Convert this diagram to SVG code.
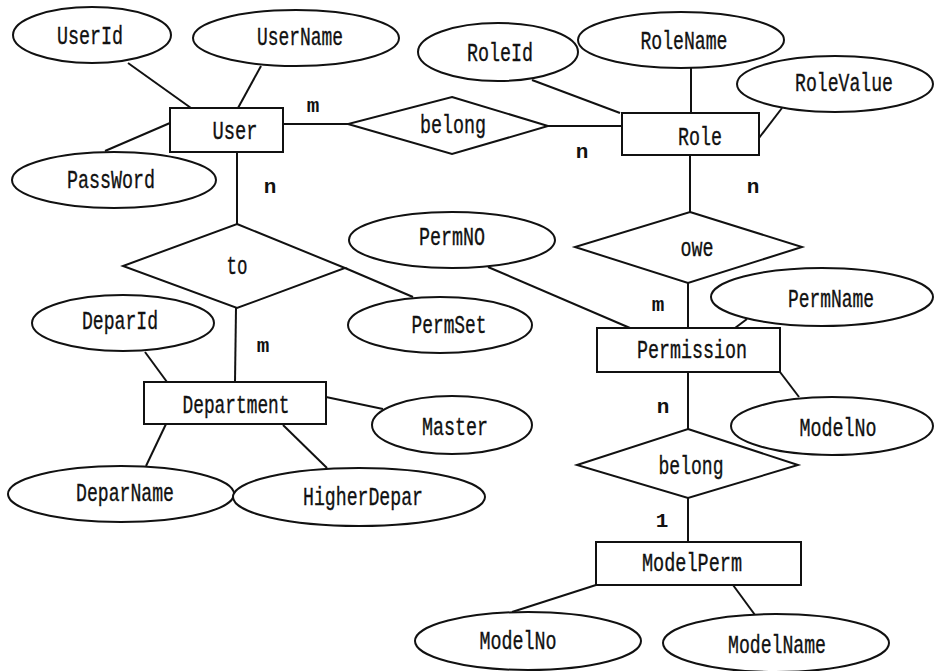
<svg xmlns="http://www.w3.org/2000/svg" width="935" height="671" viewBox="0 0 935 671">
<style>
  .shape { fill: #fff; stroke: #111; stroke-width: 2; }
  .conn line { stroke: #111; stroke-width: 2; }
  text { font-family: "Liberation Mono", "DejaVu Sans Mono", monospace; font-size: 25px; fill: #111; stroke: #111; stroke-width: 0.35; text-anchor: middle; }
  .card { font-size: 21px; font-weight: bold; stroke-width: 0; }
</style>
<rect width="935" height="671" fill="#fff"/>
<g id="connectors" class="conn">
  <line x1="128" y1="63" x2="191" y2="108"/>
  <line x1="261" y1="66" x2="238" y2="108"/>
  <line x1="105" y1="151" x2="170" y2="123"/>
  <line x1="283" y1="124" x2="348" y2="124"/>
  <line x1="548" y1="126" x2="622" y2="126"/>
  <line x1="532" y1="80" x2="620" y2="113"/>
  <line x1="691" y1="68" x2="691" y2="113"/>
  <line x1="782" y1="108" x2="759" y2="138"/>
  <line x1="237" y1="152" x2="237" y2="224"/>
  <line x1="345" y1="268" x2="413" y2="297"/>
  <line x1="236" y1="308" x2="235" y2="382"/>
  <line x1="145" y1="352" x2="167" y2="382"/>
  <line x1="326" y1="397" x2="383" y2="409"/>
  <line x1="166" y1="424" x2="146" y2="466"/>
  <line x1="283" y1="425" x2="327" y2="468"/>
  <line x1="690" y1="155" x2="690" y2="212"/>
  <line x1="488" y1="267" x2="630" y2="328"/>
  <line x1="688" y1="283" x2="688" y2="328"/>
  <line x1="747" y1="319" x2="735" y2="328"/>
  <line x1="780" y1="372" x2="799" y2="397"/>
  <line x1="688" y1="372" x2="688" y2="429"/>
  <line x1="688" y1="498" x2="688" y2="542"/>
  <line x1="596" y1="585" x2="512" y2="612"/>
  <line x1="733" y1="585" x2="755" y2="615"/>
</g>
<g id="cardinalities">
  <text class="card" x="313" y="112">m</text>
  <text class="card" x="582" y="158">n</text>
  <text class="card" x="270" y="193">n</text>
  <text class="card" x="753" y="193">n</text>
  <text class="card" x="658" y="311">m</text>
  <text class="card" x="263" y="352">m</text>
  <text class="card" x="663" y="413">n</text>
  <text class="card" x="662" y="527">1</text>
</g>
<g id="User"><rect class="shape" x="170" y="108" width="113" height="44"/><text x="235" y="139" textLength="45" lengthAdjust="spacingAndGlyphs">User</text></g>
<g id="Role"><rect class="shape" x="622" y="113" width="137" height="42"/><text x="700" y="145" textLength="44" lengthAdjust="spacingAndGlyphs">Role</text></g>
<g id="Department"><rect class="shape" x="144" y="382" width="182" height="42"/><text x="236" y="413" textLength="107" lengthAdjust="spacingAndGlyphs">Department</text></g>
<g id="Permission"><rect class="shape" x="597" y="328" width="183" height="44"/><text x="692" y="358" textLength="110" lengthAdjust="spacingAndGlyphs">Permission</text></g>
<g id="ModelPerm"><rect class="shape" x="596" y="542" width="205" height="43"/><text x="692" y="571" textLength="100" lengthAdjust="spacingAndGlyphs">ModelPerm</text></g>
<g id="belong1"><polygon class="shape" points="452,97 548,126 452,154 348,124"/><text x="453" y="133" textLength="66" lengthAdjust="spacingAndGlyphs">belong</text></g>
<g id="to"><polygon class="shape" points="237,224 345,268 237,308 123,266"/><text x="237" y="274" textLength="21" lengthAdjust="spacingAndGlyphs">to</text></g>
<g id="owe"><polygon class="shape" points="690,212 802,247 688,283 575,247"/><text x="697" y="256" textLength="33" lengthAdjust="spacingAndGlyphs">owe</text></g>
<g id="belong2"><polygon class="shape" points="688,429 798,465 688,498 577,465"/><text x="691" y="474" textLength="65" lengthAdjust="spacingAndGlyphs">belong</text></g>
<g id="UserId"><ellipse class="shape" cx="92" cy="35" rx="79" ry="28"/><text x="90" y="44" textLength="66" lengthAdjust="spacingAndGlyphs">UserId</text></g>
<g id="UserName"><ellipse class="shape" cx="296" cy="38" rx="103" ry="28"/><text x="300" y="45" textLength="86" lengthAdjust="spacingAndGlyphs">UserName</text></g>
<g id="PassWord"><ellipse class="shape" cx="114" cy="180" rx="102" ry="28"/><text x="111" y="188" textLength="88" lengthAdjust="spacingAndGlyphs">PassWord</text></g>
<g id="RoleId"><ellipse class="shape" cx="498" cy="52" rx="80" ry="29"/><text x="500" y="61" textLength="66" lengthAdjust="spacingAndGlyphs">RoleId</text></g>
<g id="RoleName"><ellipse class="shape" cx="681" cy="40" rx="103" ry="28"/><text x="684" y="49" textLength="87" lengthAdjust="spacingAndGlyphs">RoleName</text></g>
<g id="RoleValue"><ellipse class="shape" cx="835" cy="84" rx="98" ry="28"/><text x="844" y="91" textLength="98" lengthAdjust="spacingAndGlyphs">RoleValue</text></g>
<g id="PermNO"><ellipse class="shape" cx="452" cy="240" rx="103" ry="28"/><text x="452" y="245" textLength="66" lengthAdjust="spacingAndGlyphs">PermNO</text></g>
<g id="PermSet"><ellipse class="shape" cx="440" cy="325" rx="92" ry="28"/><text x="449" y="333" textLength="75" lengthAdjust="spacingAndGlyphs">PermSet</text></g>
<g id="DeparId"><ellipse class="shape" cx="123" cy="323" rx="91" ry="28"/><text x="120" y="329" textLength="76" lengthAdjust="spacingAndGlyphs">DeparId</text></g>
<g id="PermName"><ellipse class="shape" cx="822" cy="297" rx="111" ry="29"/><text x="831" y="307" textLength="86" lengthAdjust="spacingAndGlyphs">PermName</text></g>
<g id="ModelNo1"><ellipse class="shape" cx="832" cy="426" rx="101" ry="29"/><text x="838" y="436" textLength="77" lengthAdjust="spacingAndGlyphs">ModelNo</text></g>
<g id="Master"><ellipse class="shape" cx="452" cy="425" rx="80" ry="29"/><text x="455" y="435" textLength="66" lengthAdjust="spacingAndGlyphs">Master</text></g>
<g id="DeparName"><ellipse class="shape" cx="121" cy="494" rx="113" ry="28"/><text x="125" y="501" textLength="98" lengthAdjust="spacingAndGlyphs">DeparName</text></g>
<g id="HigherDepar"><ellipse class="shape" cx="359" cy="497" rx="126" ry="29"/><text x="363" y="505" textLength="120" lengthAdjust="spacingAndGlyphs">HigherDepar</text></g>
<g id="ModelNo2"><ellipse class="shape" cx="528" cy="641" rx="113" ry="29"/><text x="518" y="649" textLength="77" lengthAdjust="spacingAndGlyphs">ModelNo</text></g>
<g id="ModelName"><ellipse class="shape" cx="776" cy="643" rx="113" ry="29"/><text x="777" y="653" textLength="98" lengthAdjust="spacingAndGlyphs">ModelName</text></g>
</svg>
